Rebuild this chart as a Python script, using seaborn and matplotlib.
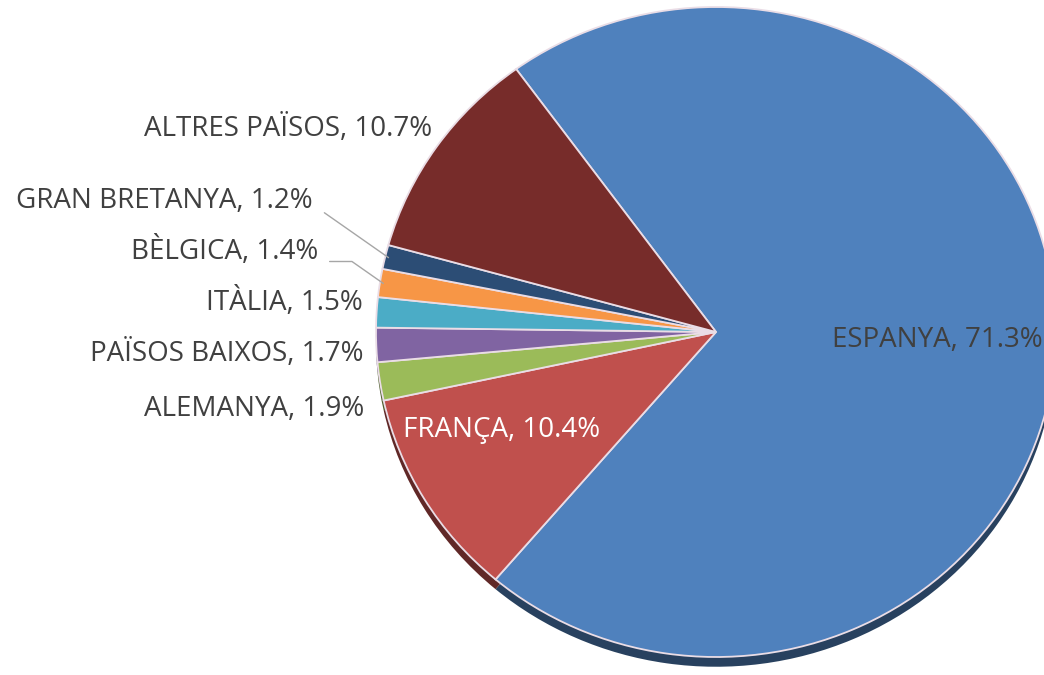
import matplotlib
matplotlib.use('Agg')
import matplotlib.pyplot as plt
import seaborn as sns
import numpy as np

# data
countries = ['ESPANYA', 'FRANÇA', 'ALEMANYA', 'PAÏSOS BAIXOS', 'ITÀLIA',
             'BÈLGICA', 'GRAN BRETANYA', 'ALTRES PAÏSOS']
shares = [71.3, 10.4, 1.9, 1.7, 1.5, 1.4, 1.2, 10.7]
colors = ['#4F81BD', '#C0504D', '#9BBB59', '#8064A2', '#4BACC6',
          '#F79646', '#2C4D75', '#772C2A']

sns.set_theme(style="white")
plt.rcParams['font.family'] = ['Open Sans', 'DejaVu Sans']

W, H = 1044, 675
CX, CY, RX, RY = 716, 332, 340, 325

fig = plt.figure(figsize=(W / 100, H / 100), dpi=100)
ax = fig.add_axes([0, 0, 1, 1])


def px(x, y):
    # pixel position -> data units (pie radius = 1)
    return ((x - CX) / RX, (CY - y) / RY)


# darker copy shifted down gives the 3D rim
dark = [tuple(c * 0.5 for c in matplotlib.colors.to_rgb(col)) for col in colors]
ax.pie(shares, colors=dark, startangle=126, counterclock=False, radius=1,
       center=(0, -0.03), wedgeprops=dict(linewidth=0))
wedges, _ = ax.pie(shares, colors=colors, startangle=126, counterclock=False,
                   radius=1, wedgeprops=dict(edgecolor='#eadde6', linewidth=1.3))

ax.set_aspect('auto')
ax.set_xlim(-CX / RX, (W - CX) / RX)
ax.set_ylim(-(H - CY) / RY, CY / RY)
ax.axis('off')

txt = '#404040'
fs = 20

# label text anchors (right edge, vertical centre) in pixels
label_pos = {
    'ALTRES PAÏSOS': (432, 129),
    'GRAN BRETANYA': (313, 201),
    'BÈLGICA': (318, 251),
    'ITÀLIA': (363, 302),
    'PAÏSOS BAIXOS': (364, 354),
    'ALEMANYA': (364, 409),
}

for w, name, val in zip(wedges, countries, shares):
    label = f'{name}, {val}%'
    if name == 'ESPANYA':
        ax.text(*px(832, 340), label, ha='left', va='center', color=txt, fontsize=fs)
    elif name == 'FRANÇA':
        ax.text(*px(502, 430), label, ha='center', va='center', color='white', fontsize=fs)
    elif name in ('GRAN BRETANYA', 'BÈLGICA'):
        mid = np.deg2rad((w.theta1 + w.theta2) / 2)
        edge = (0.99 * np.cos(mid), 0.99 * np.sin(mid))
        ax.annotate(label, xy=edge, xytext=px(*label_pos[name]),
                    ha='right', va='center', color=txt, fontsize=fs,
                    arrowprops=dict(arrowstyle='-', color='#a6a6a6', lw=1,
                                    relpos=(1.0, 0.15), shrinkA=6, shrinkB=0,
                                    connectionstyle='angle,angleA=0,angleB=-35,rad=0'))
    else:
        ax.text(*px(*label_pos[name]), label, ha='right', va='center', color=txt, fontsize=fs)

fig.savefig('out.png', dpi=100)
